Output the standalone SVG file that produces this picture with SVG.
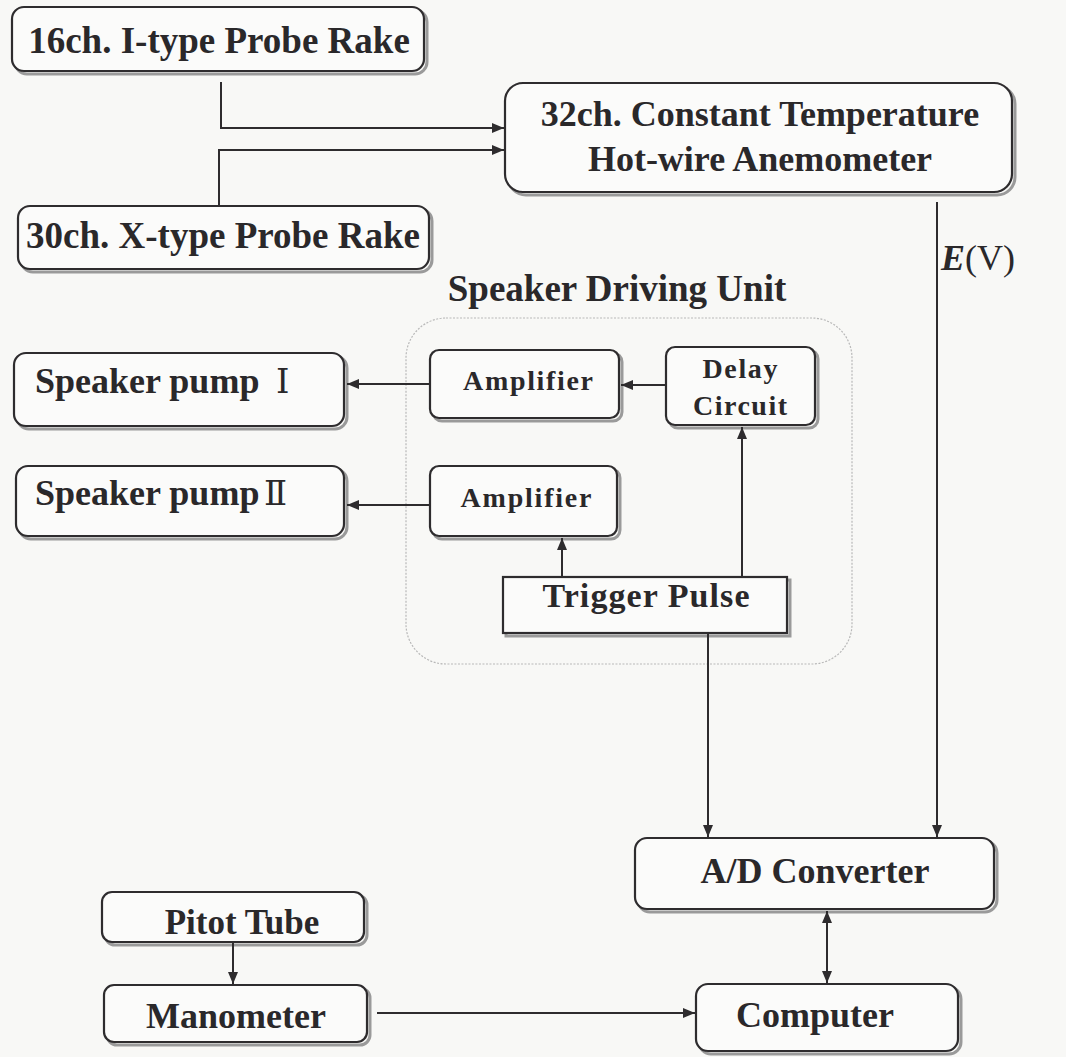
<svg xmlns="http://www.w3.org/2000/svg" width="1066" height="1057" viewBox="0 0 1066 1057">
<defs>
<style>
.box{fill:#fbfbfa;stroke:#2e2c2e;stroke-width:2.2}
.sh{fill:none;stroke:#9a9a9a;stroke-width:3}
.t{font-family:"Liberation Serif","Times New Roman",serif;font-weight:bold;fill:#2a282a}
.c{stroke:#2e2c2e;stroke-width:2;fill:none}
</style>
<marker id="ah" viewBox="0 0 12 10" refX="12" refY="5" markerWidth="13" markerHeight="10" markerUnits="userSpaceOnUse" orient="auto-start-reverse">
<path d="M0,0 L12,5 L0,10 z" fill="#2e2c2e"/>
</marker>
</defs>
<rect width="1066" height="1057" fill="#f8f8f6"/>

<g id="container">
<rect x="406" y="318" width="446" height="346" rx="40" fill="none" stroke="#b8b8b8" stroke-width="1.2" stroke-dasharray="2 1.5"/>
<text class="t" x="617" y="301" font-size="37" text-anchor="middle">Speaker Driving Unit</text>
</g>

<g id="probe16">
<rect class="sh" x="15" y="10" width="412" height="64" rx="12"/>
<rect class="box" x="12" y="7" width="412" height="64" rx="12"/>
<text class="t" x="219" y="53" font-size="37" text-anchor="middle">16ch. I-type Probe Rake</text>
</g>

<g id="probe30">
<rect class="sh" x="21" y="209" width="411" height="63" rx="12"/>
<rect class="box" x="18" y="206" width="411" height="63" rx="12"/>
<text class="t" x="223" y="248" font-size="37" text-anchor="middle">30ch. X-type Probe Rake</text>
</g>

<g id="cta">
<rect class="sh" x="508" y="86" width="507" height="109" rx="18"/>
<rect class="box" x="505" y="83" width="507" height="109" rx="18"/>
<text class="t" x="760" y="126" font-size="36" text-anchor="middle">32ch. Constant Temperature</text>
<text class="t" x="760" y="171" font-size="36" text-anchor="middle">Hot-wire Anemometer</text>
</g>

<g id="pump1">
<rect class="sh" x="17" y="356" width="330" height="73" rx="12"/>
<rect class="box" x="14" y="353" width="330" height="73" rx="12"/>
<text class="t" x="35" y="393" font-size="36">Speaker pump <tspan x="276" font-family="DejaVu Serif, serif" font-weight="normal" font-size="34">Ⅰ</tspan></text>
</g>

<g id="pump2">
<rect class="sh" x="19" y="469" width="328" height="70" rx="12"/>
<rect class="box" x="16" y="466" width="328" height="70" rx="12"/>
<text class="t" x="35" y="505" font-size="36">Speaker pump<tspan x="264" font-family="DejaVu Serif, serif" font-weight="normal" font-size="34">Ⅱ</tspan></text>
</g>

<g id="amp1">
<rect class="sh" x="433" y="353" width="189" height="68" rx="9"/>
<rect class="box" x="430" y="350" width="189" height="68" rx="9"/>
<text class="t" x="528" y="390" font-size="28" text-anchor="middle" textLength="130">Amplifier</text>
</g>

<g id="delay">
<rect class="sh" x="669" y="350" width="149" height="78" rx="9"/>
<rect class="box" x="666" y="347" width="149" height="78" rx="9"/>
<text class="t" x="740" y="378" font-size="28" text-anchor="middle" textLength="75">Delay</text>
<text class="t" x="740" y="415" font-size="28" text-anchor="middle" textLength="94">Circuit</text>
</g>

<g id="amp2">
<rect class="sh" x="433" y="469" width="187" height="70" rx="9"/>
<rect class="box" x="430" y="466" width="187" height="70" rx="9"/>
<text class="t" x="526" y="507" font-size="28" text-anchor="middle" textLength="131">Amplifier</text>
</g>

<g id="trigger">
<rect class="sh" x="506" y="580" width="284" height="56"/>
<rect class="box" x="503" y="577" width="284" height="56"/>
<text class="t" x="646" y="607" font-size="34" text-anchor="middle" textLength="207">Trigger Pulse</text>
</g>

<g id="ad">
<rect class="sh" x="638" y="841" width="359" height="71" rx="12"/>
<rect class="box" x="635" y="838" width="359" height="71" rx="12"/>
<text class="t" x="815" y="883" font-size="36" text-anchor="middle">A/D Converter</text>
</g>

<g id="pitot">
<rect class="sh" x="105" y="895" width="262" height="50" rx="10"/>
<rect class="box" x="102" y="892" width="262" height="50" rx="10"/>
<text class="t" x="242" y="934" font-size="35" text-anchor="middle">Pitot Tube</text>
</g>

<g id="manometer">
<rect class="sh" x="107" y="988" width="263" height="57" rx="10"/>
<rect class="box" x="104" y="985" width="263" height="57" rx="10"/>
<text class="t" x="236" y="1028" font-size="36" text-anchor="middle">Manometer</text>
</g>

<g id="computer">
<rect class="sh" x="699" y="987" width="262" height="67" rx="12"/>
<rect class="box" x="696" y="984" width="262" height="67" rx="12"/>
<text class="t" x="815" y="1027" font-size="36" text-anchor="middle">Computer</text>
</g>

<g id="connectors">
<path class="c" d="M221,82 V128 H504" marker-end="url(#ah)"/>
<path class="c" d="M219,205 V150 H504" marker-end="url(#ah)"/>
<path class="c" d="M937,202 V837" marker-end="url(#ah)"/>
<text x="941" y="270" font-family="Liberation Serif, serif" font-size="36" fill="#2a282a"><tspan font-style="italic" font-weight="bold">E</tspan>(V)</text>
<path class="c" d="M430,384 H347" marker-end="url(#ah)"/>
<path class="c" d="M430,505 H347" marker-end="url(#ah)"/>
<path class="c" d="M666,385 H621" marker-end="url(#ah)"/>
<path class="c" d="M562,577 V538" marker-end="url(#ah)"/>
<path class="c" d="M742,577 V427" marker-end="url(#ah)"/>
<path class="c" d="M708,633 V837" marker-end="url(#ah)"/>
<path class="c" d="M827,911 V983" marker-start="url(#ah)" marker-end="url(#ah)"/>
<path class="c" d="M233,943 V984" marker-end="url(#ah)"/>
<path class="c" d="M377,1013 H695" marker-end="url(#ah)"/>
</g>
</svg>
